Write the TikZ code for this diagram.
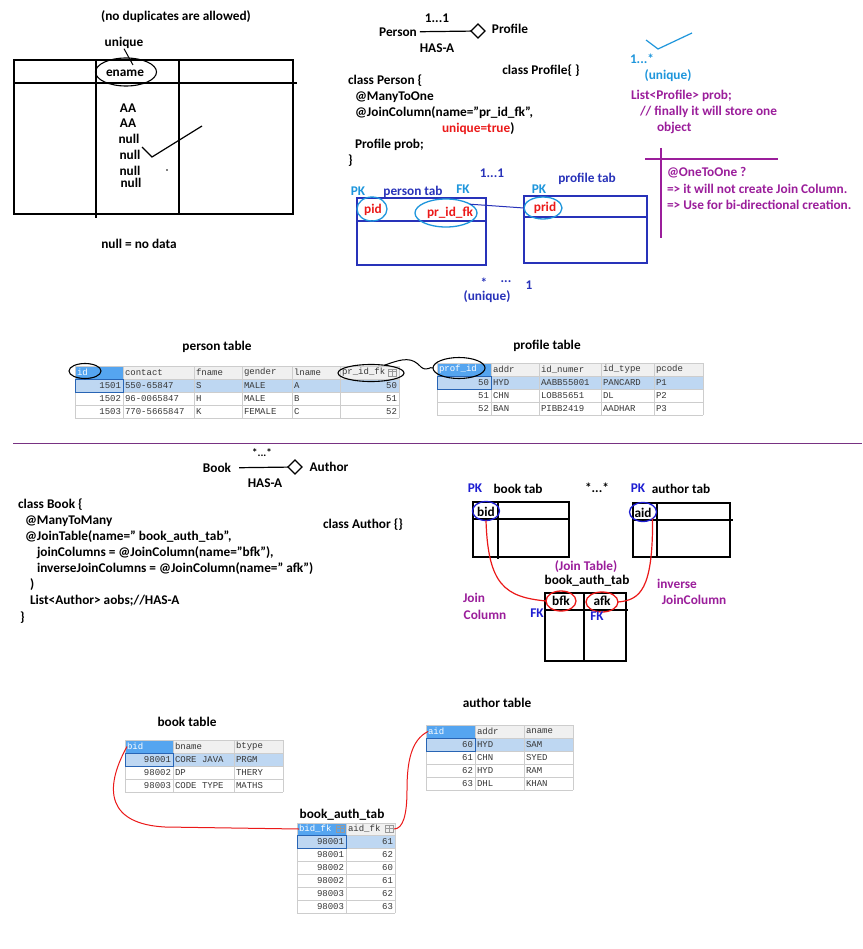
\documentclass[tikz,border=0pt]{standalone}
\usepackage{fontspec}
\setmainfont{Carlito}
\setmonofont{Liberation Mono}
\usetikzlibrary{shapes.geometric}

\begin{document}
\begin{tikzpicture}[x={(1pt,0pt)}, y={(0pt,-1pt)},
    inner sep=0pt, outer sep=0pt,
    hand/.style={font=\fontsize{13.3}{15}\selectfont\bfseries},
    code/.style={hand, anchor=west},
    pen/.style={line width=1.2pt},
    ring/.style={ellipse, draw=#1, line width=1.3pt},
    cell/.style={font=\fontsize{9}{10}\selectfont\ttfamily, text=celltxt, anchor=west},
    cellr/.style={cell, anchor=east},
    hcell/.style={cell, text=white},
    grid/.style={draw=gridgray, line width=0.6pt},
    selcell/.style={draw=selline, line width=0.9pt},
    icon/.style={draw=gray!80, line width=0.5pt},
]
    % Colors
    \definecolor{lblue}{RGB}{30,150,220}
    \definecolor{dblue}{RGB}{40,50,185}
    \definecolor{pkblue}{RGB}{30,30,210}
    \definecolor{hred}{RGB}{235,25,25}
    \definecolor{hpurple}{RGB}{155,30,155}
    \definecolor{sepline}{RGB}{120,50,130}
    \definecolor{selblue}{RGB}{190,215,242}
    \definecolor{hdblue}{RGB}{85,165,240}
    \definecolor{hdgray}{RGB}{240,240,240}
    \definecolor{gridgray}{RGB}{205,205,205}
    \definecolor{selline}{RGB}{40,100,180}
    \definecolor{celltxt}{RGB}{55,55,55}

    \useasboundingbox[fill=white] (0,0) rectangle (862,949);

    % unique column sketch
    \node[hand] (nodup) at (176,17) {(no duplicates are allowed)};
    \node[hand] (uniq) at (124,43) {unique};
    \draw[pen] (14,60) rectangle (293,214);
    \draw[pen] (13,83) -- (297,83);
    \draw[pen] (96,60) -- (96,218);
    \draw[pen] (179,60) -- (179,214);
    \node[ring=black, line width=1.1pt, minimum width=61, minimum height=28] (enamering) at (126,72) {};
    \node[hand] (ename) at (125,73) {ename};
    \coordinate (uniqtip) at (133,65);
    \draw[line width=1pt] (uniq.south) -- (uniqtip);
    \foreach \v/\x/\y [count=\i] in {AA/128/108, AA/128/123, null/129/139, null/130/155, null/130/171, null/131/183}
        \node[hand] (val\i) at (\x,\y) {\v};
    \draw[pen] (142,147) -- (152,157) -- (202,126);
    \fill (167,170) circle (0.8);
    \node[hand] (nulldef) at (139,244) {null = no data};

    % Person -- Profile
    \node[hand] (person) at (398,32) {Person};
    \node[diamond, draw, pen, minimum width=14, minimum height=14] (dia1) at (478,31) {};
    \draw[pen, shorten <=3pt] (person) -- (dia1);
    \node[hand] (one1) at (437,18) {1...1};
    \node[hand] (hasa1) at (437,48) {HAS-A};
    \node[hand] (profile) at (510,29) {Profile};
    \node[hand] (clsprof) at (541,71) {class Profile\{ \}};
    \node[code] (pc1) at (348,81) {class Person \{};
    \node[code] (pc2) at (355,97) {@ManyToOne};
    \node[code] (pc3) at (355,113) {@JoinColumn(name="pr\_id\_fk",};
    \node[code] (pc4) at (442,129) {\textcolor{hred}{unique=true})};
    \node[code] (pc5) at (355,145) {Profile prob;};
    \node[code] (pc6) at (348,161) {\}};

    % one-to-many note
    \draw[lblue, pen] (646,40) -- (658,49) -- (692,33);
    \node[hand, text=lblue] (many1) at (642,59) {1...*};
    \node[hand, text=lblue] (uniq2) at (668,76) {(unique)};
    \node[code, text=hpurple] (lst) at (631,96) {List<Profile> prob;};
    \node[code, text=hpurple] (cmt1) at (640,112) {// finally it will store one};
    \node[code, text=hpurple] (cmt2) at (657,128) {object};
    \draw[hpurple, pen] (661,148) -- (661,238);
    \draw[hpurple, pen] (645,159) -- (778,159);
    \node[code, text=hpurple] (oto1) at (667,173) {@OneToOne ?};
    \node[code, text=hpurple] (oto2) at (667,189) {=> it will not create Join Column.};
    \node[code, text=hpurple] (oto3) at (667,205) {=> Use for bi-directional creation.};

    % person tab / profile tab
    \node[hand, text=dblue] (one2) at (492,173) {1...1};
    \node[hand, text=lblue] (pk1) at (358,191) {PK};
    \node[hand, text=dblue] (pertab) at (413,192) {person tab};
    \node[hand, text=lblue] (fk1) at (463,189) {FK};
    \draw[dblue, line width=1.4pt] (357,198) rectangle (486,265);
    \draw[dblue, line width=1.4pt] (357,221) -- (487,221);
    \node[ring=lblue, minimum width=30, minimum height=24] (pidring) at (372,209) {};
    \node[hand, text=hred] (pid) at (373,210) {pid};
    \node[ring=lblue, minimum width=62, minimum height=28] (fkring) at (446,213) {};
    \node[hand, text=hred] (prfk) at (450,213) {pr\_id\_fk};
    \node[hand, text=dblue] (proftab) at (587,179) {profile tab};
    \node[hand, text=lblue] (pk2) at (539,189) {PK};
    \draw[dblue, line width=1.4pt] (524,196) rectangle (647,263);
    \draw[dblue, line width=1.4pt] (524,217) -- (647,217);
    \node[ring=lblue, minimum width=38, minimum height=22] (pridring) at (543,208) {};
    \node[hand, text=hred] (prid) at (545,208) {prid};
    \draw[dblue, line width=1pt] (fkring.20) -- (pridring.west);
    \node[hand, text=dblue] (star1) at (484,283) {*};
    \node[hand, text=dblue] (dots1) at (506,282) {...};
    \node[hand, text=dblue] (one3) at (529,285) {1};
    \node[hand, text=dblue] (uniq3) at (487,297) {(unique)};

    % person table
    \node[hand] (pertabl) at (217,347) {person table};
    \fill[hdgray] (75,366) rectangle (399,379);
    \fill[hdblue] (75,366) rectangle (123,379);
    \fill[selblue] (75,379) rectangle (399,392);
    \foreach \y in {366,379,392,405,418} \draw[grid] (75,\y) -- (399,\y);
    \foreach \x in {75,123,194,242,292,340,399} \draw[grid] (\x,366) -- (\x,418);
    \draw[selcell] (75,379) rectangle (123,392);
    \node[hcell] (ptid) at (77,372.5) {id};
    \foreach \x/\t [count=\i] in {125/contact,196/fname,244/gender,294/lname}
        \node[cell] (pth\i) at (\x,372.5) {\t};
    \node[cell] (ptfk) at (342,372.5) {pr\_id\_fk};
    \draw[icon] (388,369) rectangle (396,376);
    \draw[icon] (388,371.5) -- (396,371.5) (392,369) -- (392,376);
    \foreach \y/\a/\b/\c/\d/\e/\f [count=\r] in {385.5/1501/550-65847/S/MALE/A/50,
        398.5/1502/96-0065847/H/MALE/B/51, 411.5/1503/770-5665847/K/FEMALE/C/52} {
        \node[cellr] (pt-\r-1) at (121,\y) {\a};
        \node[cell] (pt-\r-2) at (125,\y) {\b};
        \node[cell] (pt-\r-3) at (196,\y) {\c};
        \node[cell] (pt-\r-4) at (244,\y) {\d};
        \node[cell] (pt-\r-5) at (294,\y) {\e};
        \node[cellr] (pt-\r-6) at (397,\y) {\f};
    }
    \node[ring=black, line width=1.1pt, minimum width=32, minimum height=15] (idring) at (85,371) {};
    \node[ring=black, line width=1.1pt, minimum width=66, minimum height=17] (pfkring) at (371,373) {};

    % profile table
    \node[hand] (proftabl) at (547,346) {profile table};
    \fill[hdgray] (437,363) rectangle (703,376);
    \fill[hdblue] (437,363) rectangle (491,376);
    \fill[selblue] (437,376) rectangle (703,389);
    \foreach \y in {363,376,389,402,415} \draw[grid] (437,\y) -- (703,\y);
    \foreach \x in {437,491,539,601,654,703} \draw[grid] (\x,363) -- (\x,415);
    \draw[selcell] (437,376) rectangle (491,389);
    \node[hcell] (prid-h) at (439,369.5) {prof\_id};
    \foreach \x/\t [count=\i] in {493/addr,541/id\_numer,603/id\_type,656/pcode}
        \node[cell] (prh\i) at (\x,369.5) {\t};
    \foreach \y/\a/\b/\c/\d/\e [count=\r] in {382.5/50/HYD/AABB55001/PANCARD/P1,
        395.5/51/CHN/LOB85651/DL/P2, 408.5/52/BAN/PIBB2419/AADHAR/P3} {
        \node[cellr] (pr-\r-1) at (489,\y) {\a};
        \node[cell] (pr-\r-2) at (493,\y) {\b};
        \node[cell] (pr-\r-3) at (541,\y) {\c};
        \node[cell] (pr-\r-4) at (603,\y) {\d};
        \node[cell] (pr-\r-5) at (656,\y) {\e};
    }
    \node[ring=black, line width=1.1pt, minimum width=52, minimum height=21] (profring) at (459,368) {};
    \coordinate (wave) at (421,367);
    \draw[line width=1pt] (pfkring.30) .. controls (404,358) and (412,357) .. (wave)
        .. controls (427,372) and (430,366) .. (profring.west);

    % separator
    \draw[sepline, line width=1pt] (13,443) -- (862,443);

    % Book -- Author
    \node[hand, font=\fontsize{11}{12}\selectfont\bfseries] (many2) at (262,453) {*...*};
    \node[hand] (book) at (217,468) {Book};
    \node[diamond, draw, pen, minimum width=14, minimum height=14] (dia2) at (295,467) {};
    \draw[pen, shorten <=8pt] (book) -- (dia2);
    \node[hand] (author) at (329,467) {Author};
    \node[hand] (hasa2) at (265,483) {HAS-A};
    \node[code] (bc1) at (18,505) {class Book \{};
    \node[code] (bc2) at (25,521) {@ManyToMany};
    \node[code] (bc3) at (25,537) {@JoinTable(name=" book\_auth\_tab",};
    \node[code] (bc4) at (37,553) {joinColumns = @JoinColumn(name="bfk"),};
    \node[code] (bc5) at (37,569) {inverseJoinColumns = @JoinColumn(name=" afk")};
    \node[code] (bc6) at (30,585) {)};
    \node[code] (bc7) at (30,601) {List<Author> aobs;//HAS-A};
    \node[code] (bc8) at (20,618) {\}};
    \node[code] (clsauth) at (323,525) {class Author \{\}};

    % book tab / author tab / join table
    \node[hand, text=pkblue] (pk3) at (475,488) {PK};
    \node[hand] (booktab) at (518,489) {book tab};
    \node[hand] (many3) at (597,488) {*...*};
    \node[hand, text=pkblue] (pk4) at (638,488) {PK};
    \node[hand] (authtab) at (681,489) {author tab};
    \draw[pen] (473,502) rectangle (569,557);
    \draw[pen] (473,519) -- (569,519);
    \draw[pen] (498,502) -- (498,559);
    \draw[pen] (633,503) rectangle (730,557);
    \draw[pen] (633,520) -- (733,520);
    \draw[pen] (657,503) -- (657,557);
    \node[ring=pkblue, minimum width=27, minimum height=19] (bidring) at (486,511) {};
    \node[hand] (bid) at (486,512) {bid};
    \node[ring=pkblue, minimum width=27, minimum height=19] (aidring) at (643,512) {};
    \node[hand] (aid) at (643,513) {aid};
    \node[hand, text=hpurple] (jointab) at (586,567) {(Join Table)};
    \node[hand] (batab) at (587,581) {book\_auth\_tab};
    \draw[pen] (545,593) rectangle (626,661);
    \draw[pen] (545,610) -- (628,610);
    \draw[pen] (584,593) -- (584,661);
    \node[ring=hred, minimum width=30, minimum height=20] (bfkring) at (561,601) {};
    \node[hand] (bfk) at (561,601) {bfk};
    \node[ring=hred, minimum width=32, minimum height=20] (afkring) at (602,602) {};
    \node[hand] (afk) at (602,601) {afk};
    \node[hand, text=pkblue] (fk2) at (537,613) {FK};
    \node[hand, text=pkblue] (fk3) at (597,616) {FK};
    \node[hand, text=hpurple] (jc1) at (474,598) {Join};
    \node[hand, text=hpurple] (jc2) at (485,615) {Column};
    \node[hand, text=hpurple] (ijc1) at (677,584) {inverse};
    \node[hand, text=hpurple] (ijc2) at (694,600) {JoinColumn};
    \draw[hred, pen] (bidring.south) .. controls (488,585) and (505,597) .. (bfkring.west);
    \draw[hred, pen] (aidring.south east) .. controls (653,590) and (640,600) .. (afkring.east);

    % book table
    \node[hand] (booktabl) at (187,722) {book table};
    \fill[hdgray] (125,740) rectangle (283,753);
    \fill[hdblue] (125,740) rectangle (173,753);
    \fill[selblue] (125,753) rectangle (283,766);
    \foreach \y in {740,753,766,779,792} \draw[grid] (125,\y) -- (283,\y);
    \foreach \x in {125,173,234,283} \draw[grid] (\x,740) -- (\x,792);
    \draw[selcell] (125,753) rectangle (173,766);
    \node[hcell] (bkbid) at (127,746.5) {bid};
    \node[cell] (bkname) at (175,746.5) {bname};
    \node[cell] (bktype) at (236,746.5) {btype};
    \foreach \y/\a/\b/\c [count=\r] in {759.5/98001/CORE JAVA/PRGM, 772.5/98002/DP/THERY, 785.5/98003/CODE TYPE/MATHS} {
        \node[cellr] (bk-\r-1) at (171,\y) {\a};
        \node[cell] (bk-\r-2) at (175,\y) {\b};
        \node[cell] (bk-\r-3) at (236,\y) {\c};
    }

    % author table
    \node[hand] (authtabl) at (497,703) {author table};
    \fill[hdgray] (426,725) rectangle (573,738);
    \fill[hdblue] (426,725) rectangle (475,738);
    \fill[selblue] (426,738) rectangle (573,751);
    \foreach \y in {725,738,751,764,777,790} \draw[grid] (426,\y) -- (573,\y);
    \foreach \x in {426,475,524,573} \draw[grid] (\x,725) -- (\x,790);
    \draw[selcell] (426,738) rectangle (475,751);
    \node[hcell] (auaid) at (428,731.5) {aid};
    \node[cell] (auaddr) at (477,731.5) {addr};
    \node[cell] (auname) at (526,731.5) {aname};
    \foreach \y/\a/\b/\c [count=\r] in {744.5/60/HYD/SAM, 757.5/61/CHN/SYED, 770.5/62/HYD/RAM, 783.5/63/DHL/KHAN} {
        \node[cellr] (au-\r-1) at (473,\y) {\a};
        \node[cell] (au-\r-2) at (477,\y) {\b};
        \node[cell] (au-\r-3) at (526,\y) {\c};
    }

    % book_auth_tab table
    \node[hand] (batabl) at (342,815) {book\_auth\_tab};
    \fill[hdgray] (297,823) rectangle (395,835);
    \fill[hdblue] (297,823) rectangle (346,835);
    \fill[selblue] (297,835) rectangle (395,848);
    \foreach \y in {823,835,848,861,874,887,900,913} \draw[grid] (297,\y) -- (395,\y);
    \foreach \x in {297,346,395} \draw[grid] (\x,823) -- (\x,913);
    \draw[selcell] (297,835) rectangle (346,848);
    \node[hcell] (babid) at (299,829) {bid\_fk};
    \node[cell] (baaid) at (348,829) {aid\_fk};
    \foreach \ix in {340,389} {
        \draw[icon] (\ix-4,825.5) rectangle (\ix+4,832.5);
        \draw[icon] (\ix-4,828) -- (\ix+4,828) (\ix,825.5) -- (\ix,832.5);
    }
    \foreach \y/\a/\b [count=\r] in {841.5/98001/61, 854.5/98001/62, 867.5/98002/60,
        880.5/98002/61, 893.5/98003/62, 906.5/98003/63} {
        \node[cellr] (ba-\r-1) at (344,\y) {\a};
        \node[cellr] (ba-\r-2) at (393,\y) {\b};
    }

    % join links
    \coordinate (aidfkend) at (394,829);
    \draw[hred, line width=1pt] (bkbid.west) .. controls (103,790) and (108,824) .. (165,827) -- (babid.west);
    \draw[hred, line width=1pt] (auaid.west) .. controls (411,740) and (407,762) .. (407,790)
        .. controls (407,815) and (403,829) .. (aidfkend);
\end{tikzpicture}
\end{document}
